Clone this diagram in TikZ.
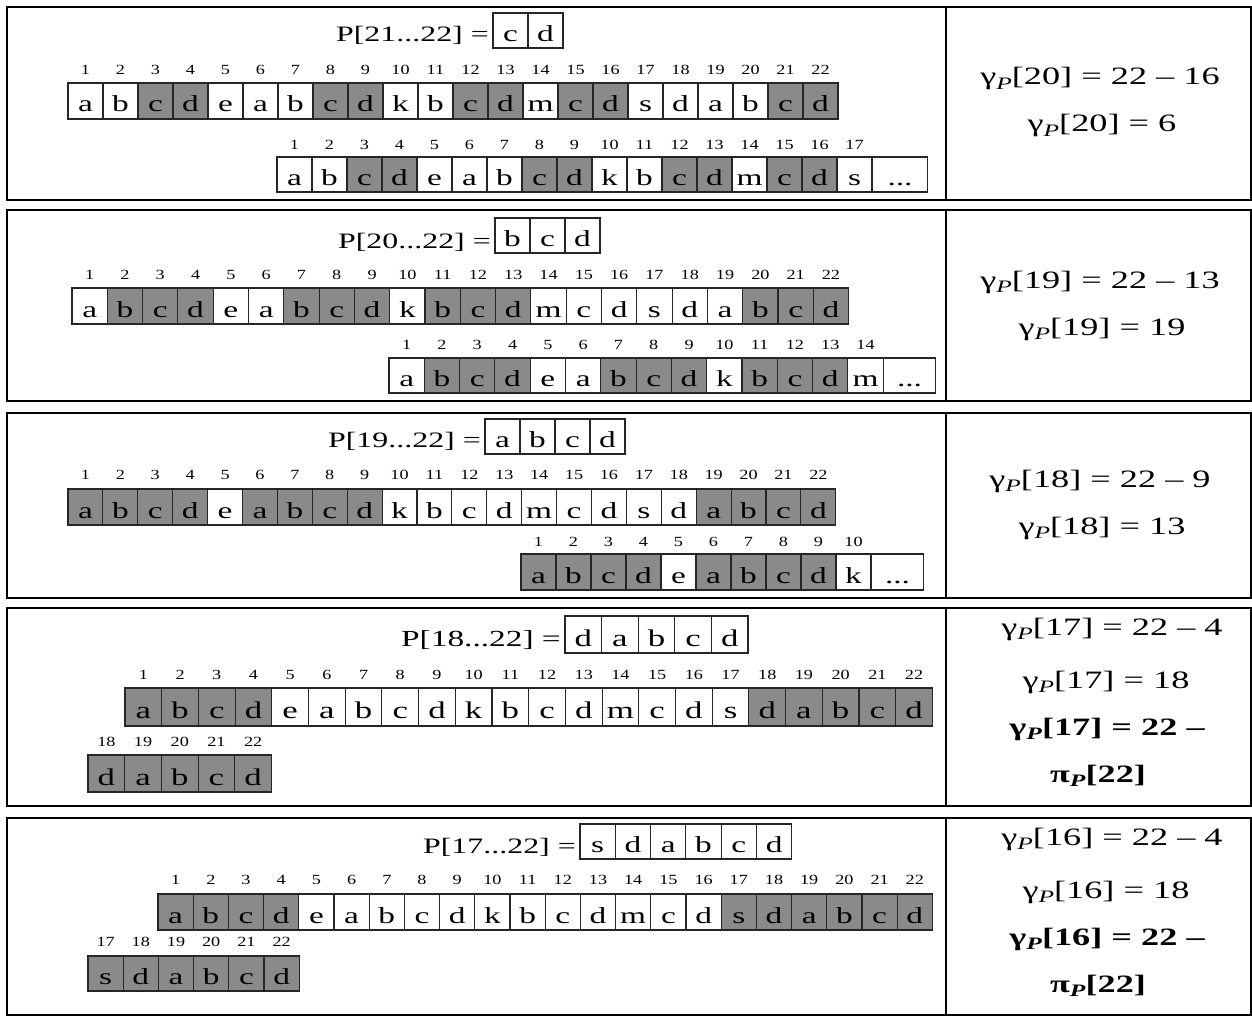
\documentclass[tikz,border=0pt]{standalone}
\usepackage{fontspec}
\usepackage{graphicx}
\setmainfont{Liberation Serif}[FakeStretch=1.45]
\newfontfamily\idxfont{Liberation Serif}[FakeStretch=1.3]
\definecolor{cg}{RGB}{138,138,138}
\newcommand\gP{γ\raisebox{-0.18em}{\scalebox{0.7}{\textit{P}}}}
\newcommand\pP{π\raisebox{-0.18em}{\scalebox{0.7}{\textit{P}}}}
\newcommand\cellrow[8]{%
  \foreach \ch/\fc [count=\i] in {#8} {%
    \pgfmathsetmacro\xx{#2+(\i-0.5)*#4}%
    \pgfmathsetmacro\yy{#3+0.5*#5}%
    \pgfmathtruncatemacro\nn{#7+\i-1}%
    \node[cellbox, fill=\fc, minimum width=#4pt, minimum height=#5pt] (#1-\i) at (\xx,\yy) {\ch};%
    \node[idx] (#1-n\i) at (\xx,#6) {\nn};%
  }}
\newcommand\patrow[6]{%
  \foreach \ch [count=\i] in {#6} {%
    \pgfmathsetmacro\xx{#2+(\i-0.5)*#4}%
    \pgfmathsetmacro\yy{#3+0.5*#5}%
    \node[cellbox, fill=white, minimum width=#4pt, minimum height=#5pt] (#1-\i) at (\xx,\yy) {\ch};%
  }}
\begin{document}
\begin{tikzpicture}[x=1pt,y=-1pt,
  cellbox/.style={draw=black!85, line width=1.1pt, inner sep=0pt, text height=22pt, text depth=0pt, font=\fontsize{23}{23}\selectfont},
  idx/.style={inner sep=0pt, text height=9.5pt, text depth=0pt, font=\idxfont\fontsize{14}{14}\selectfont},
  lab/.style={inner sep=0pt, anchor=base east, font=\fontsize{22}{22}\selectfont},
  rt/.style={inner sep=0pt, anchor=base, font=\fontsize{25}{25}\selectfont},
  rtb/.style={inner sep=0pt, anchor=base, font=\fontsize{25}{25}\selectfont\bfseries},
  frame/.style={draw=black, line width=2.6pt},
  divl/.style={draw=black, line width=2.2pt}]
\useasboundingbox (0,0) rectangle (1252,1016);
\fill[white] (0,0) rectangle (1252,1016);

% ---------- Panel 1 ----------
\draw[frame] (7,7) rectangle (1251,200);
\draw[divl] (946,7) -- (946,200);
\patrow{p1p}{493}{13}{35}{35}{c,d}
\node[lab] (p1lab) at (489,42) {P[21...22] =};
\cellrow{p1m}{68}{83}{35}{36}{69.5}{1}{a/white,b/white,c/cg,d/cg,e/white,a/white,b/white,c/cg,d/cg,k/white,b/white,c/cg,d/cg,m/white,c/cg,d/cg,s/white,d/white,a/white,b/white,c/cg,d/cg}
\cellrow{p1s}{277}{157}{35}{35}{145}{1}{a/white,b/white,c/cg,d/cg,e/white,a/white,b/white,c/cg,d/cg,k/white,b/white,c/cg,d/cg,m/white,c/cg,d/cg,s/white}
\node[cellbox, fill=white, minimum width=55pt, minimum height=35pt, anchor=west] (p1dots) at (872,174.5) {...};
\node[rt] (p1r1) at (1100,85) {\gP[20] = 22 – 16};
\node[rt] (p1r2) at (1102,132) {\gP[20] = 6};

% ---------- Panel 2 ----------
\draw[frame] (7,210) rectangle (1251,401);
\draw[divl] (946,210) -- (946,401);
\patrow{p2p}{495}{218}{35}{35}{b,c,d}
\node[lab] (p2lab) at (491,248) {P[20...22] =};
\cellrow{p2m}{72}{288}{35.3}{36}{275}{1}{a/white,b/cg,c/cg,d/cg,e/white,a/white,b/cg,c/cg,d/cg,k/white,b/cg,c/cg,d/cg,m/white,c/white,d/white,s/white,d/white,a/white,b/cg,c/cg,d/cg}
\cellrow{p2s}{389}{358}{35.3}{35}{345}{1}{a/white,b/cg,c/cg,d/cg,e/white,a/white,b/cg,c/cg,d/cg,k/white,b/cg,c/cg,d/cg,m/white}
\node[cellbox, fill=white, minimum width=52pt, minimum height=35pt, anchor=west] (p2dots) at (883,375.5) {...};
\node[rt] (p2r1) at (1100,288) {\gP[19] = 22 – 13};
\node[rt] (p2r2) at (1102,335) {\gP[19] = 19};

% ---------- Panel 3 ----------
\draw[frame] (7,413) rectangle (1251,598);
\draw[divl] (946,413) -- (946,598);
\patrow{p3p}{485}{419}{35}{35}{a,b,c,d}
\node[lab] (p3lab) at (481,447) {P[19...22] =};
\cellrow{p3m}{68}{489}{34.9}{36}{475}{1}{a/cg,b/cg,c/cg,d/cg,e/white,a/cg,b/cg,c/cg,d/cg,k/white,b/white,c/white,d/white,m/white,c/white,d/white,s/white,d/white,a/cg,b/cg,c/cg,d/cg}
\cellrow{p3s}{521}{554}{35}{36}{542}{1}{a/cg,b/cg,c/cg,d/cg,e/white,a/cg,b/cg,c/cg,d/cg,k/white}
\node[cellbox, fill=white, minimum width=52pt, minimum height=36pt, anchor=west] (p3dots) at (871,572) {...};
\node[rt] (p3r1) at (1100,487) {\gP[18] = 22 – 9};
\node[rt] (p3r2) at (1102,534) {\gP[18] = 13};

% ---------- Panel 4 ----------
\draw[frame] (7,608) rectangle (1251,806);
\draw[divl] (946,608) -- (946,806);
\begin{scope}[cellbox/.append style={text height=23pt, font=\fontsize{24}{24}\selectfont}]
\patrow{p4p}{565}{616}{36.6}{37}{d,a,b,c,d}
\node[lab, font=\fontsize{23}{23}\selectfont] (p4lab) at (561,646) {P[18...22] =};
\cellrow{p4m}{125}{688}{36.7}{38}{675}{1}{a/cg,b/cg,c/cg,d/cg,e/white,a/white,b/white,c/white,d/white,k/white,b/white,c/white,d/white,m/white,c/white,d/white,s/white,d/cg,a/cg,b/cg,c/cg,d/cg}
\cellrow{p4s}{88}{755}{36.7}{37}{742}{18}{d/cg,a/cg,b/cg,c/cg,d/cg}
\end{scope}
\node[rt] (p4r1) at (1112,635) {\gP[17] = 22 – 4};
\node[rt] (p4r2) at (1106,688) {\gP[17] = 18};
\node[rtb] (p4r3) at (1107,735) {\gP[17] = 22 –};
\node[rtb] (p4r4) at (1098,782) {\pP[22]};

% ---------- Panel 5 ----------
\draw[frame] (7,818) rectangle (1251,1015);
\draw[divl] (946,818) -- (946,1015);
\patrow{p5p}{580}{824}{35.3}{35}{s,d,a,b,c,d}
\node[lab] (p5lab) at (576,853) {P[17...22] =};
\cellrow{p5m}{158}{894}{35.2}{36}{880}{1}{a/cg,b/cg,c/cg,d/cg,e/white,a/white,b/white,c/white,d/white,k/white,b/white,c/white,d/white,m/white,c/white,d/white,s/cg,d/cg,a/cg,b/cg,c/cg,d/cg}
\cellrow{p5s}{88}{956}{35.2}{35}{942}{17}{s/cg,d/cg,a/cg,b/cg,c/cg,d/cg}
\node[rt] (p5r1) at (1112,845) {\gP[16] = 22 – 4};
\node[rt] (p5r2) at (1106,898) {\gP[16] = 18};
\node[rtb] (p5r3) at (1107,945) {\gP[16] = 22 –};
\node[rtb] (p5r4) at (1098,992) {\pP[22]};
\end{tikzpicture}
\end{document}
